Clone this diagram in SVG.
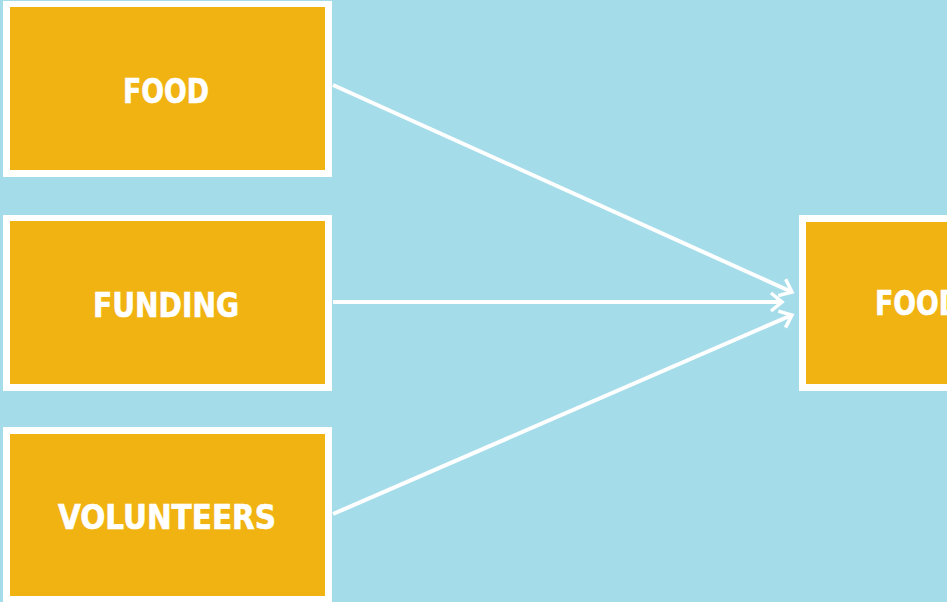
<svg xmlns="http://www.w3.org/2000/svg" width="947" height="602" viewBox="0 0 947 602">
  <style>
    .frame { fill: #ffffff; }
    .box { fill: #f0b312; }
    .label { fill: #ffffff; stroke: #ffffff; stroke-width: 0.6; font-family: "DejaVu Sans Condensed", "Liberation Sans", sans-serif; font-weight: bold; font-size: 34px; text-anchor: middle; }
    .link { stroke: #ffffff; stroke-width: 4; fill: none; }
  </style>
  <defs>
    <marker id="chevron" markerUnits="userSpaceOnUse" markerWidth="30" markerHeight="30" refX="0" refY="0" viewBox="-15 -15 30 30" orient="auto">
      <path d="M-11,-9 L0,0 L-11,9" fill="none" stroke="#ffffff" stroke-width="3.5" stroke-linecap="butt" stroke-linejoin="miter"/>
    </marker>
  </defs>

  <rect width="947" height="602" fill="#a4dde9"/>

  <g id="node-food">
    <rect class="frame" x="3" y="1" width="329" height="176"/>
    <rect class="box" x="10" y="7" width="315" height="163"/>
    <text class="label" x="166" y="103" textLength="86" lengthAdjust="spacingAndGlyphs">FOOD</text>
  </g>

  <g id="node-funding">
    <rect class="frame" x="3" y="215" width="329" height="176"/>
    <rect class="box" x="10" y="221" width="315" height="163"/>
    <text class="label" x="166" y="317" textLength="146" lengthAdjust="spacingAndGlyphs">FUNDING</text>
  </g>

  <g id="node-volunteers">
    <rect class="frame" x="3" y="427" width="329" height="180"/>
    <rect class="box" x="10" y="434" width="315" height="162"/>
    <text class="label" x="167" y="529" textLength="218" lengthAdjust="spacingAndGlyphs">VOLUNTEERS</text>
  </g>

  <g id="node-food-bank">
    <rect class="frame" x="799" y="215" width="160" height="176"/>
    <rect class="box" x="806" y="222" width="150" height="162"/>
    <text x="875" y="315" class="label" style="text-anchor:start" textLength="86" lengthAdjust="spacingAndGlyphs">FOOD</text>
  </g>

  <g id="connectors">
    <line class="link" x1="333" y1="85" x2="792" y2="292" marker-end="url(#chevron)"/>
    <line class="link" x1="333" y1="302" x2="782" y2="302" marker-end="url(#chevron)"/>
    <line class="link" x1="333" y1="514" x2="792" y2="315" marker-end="url(#chevron)"/>
  </g>
</svg>
